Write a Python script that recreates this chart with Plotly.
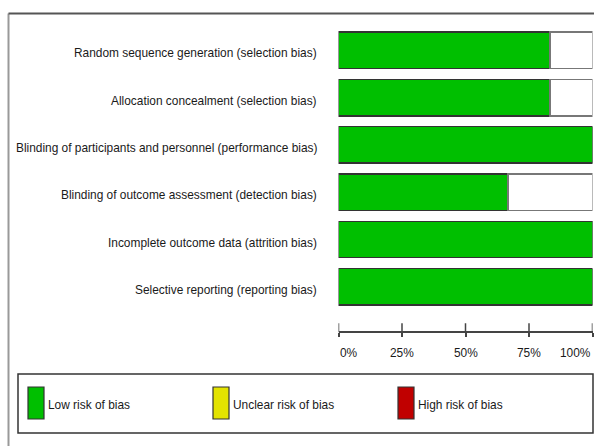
import plotly.graph_objects as go

# ---- data ----
domains = [
    "Random sequence generation (selection bias)",
    "Allocation concealment (selection bias)",
    "Blinding of participants and personnel (performance bias)",
    "Blinding of outcome assessment (detection bias)",
    "Incomplete outcome data (attrition bias)",
    "Selective reporting (reporting bias)",
]
low_risk = [83.3, 83.3, 100, 66.7, 100, 100]
not_low = [16.7, 16.7, 0, 33.3, 0, 0]
tick_vals = [0, 25, 50, 75, 100]
tick_text = ["0%", "25%", "50%", "75%", "100%"]
legend_labels = ["Low risk of bias", "Unclear risk of bias", "High risk of bias"]
legend_colors = ["#00BF00", "#E3E300", "#C00000"]

W, H = 594, 446
FONT = "Liberation Sans Narrow, Arial Narrow, Liberation Sans, Arial, sans-serif"
FS = 11.9
TXT = "#1a1a1a"


def px(x):
    return x / W


def py(y):
    return 1 - y / H


fig = go.Figure()
fig.add_trace(go.Bar(
    y=domains, x=low_risk, orientation="h", width=0.77,
    marker=dict(color=legend_colors[0], line=dict(color="#333333", width=1.5)),
    hoverinfo="skip",
))
fig.add_trace(go.Bar(
    y=domains, x=not_low, orientation="h", width=0.77,
    marker=dict(color="white", line=dict(color="#777777", width=1.5)),
    hoverinfo="skip",
))

shapes = []
annotations = []
# category labels (slightly below bar centre, as in the reference)
for d in domains:
    annotations.append(dict(xref="paper", yref="y", x=px(319), y=d, text=d, showarrow=False,
                            xanchor="right", yanchor="middle", yshift=-3,
                            font=dict(family=FONT, size=FS, color=TXT)))
# outer frame
shapes.append(dict(type="line", xref="paper", yref="paper", x0=px(8.5), x1=px(8.5), y0=py(13.5), y1=0,
                   line=dict(color="#999999", width=2)))
shapes.append(dict(type="line", xref="paper", yref="paper", x0=px(8.5), x1=1.02, y0=py(13.5), y1=py(13.5),
                   line=dict(color="#555555", width=2)))
# upward part of ticks + tick labels
axis_y = 332.3
for i, (v, t) in enumerate(zip(tick_vals, tick_text)):
    shapes.append(dict(type="line", xref="x", yref="paper", x0=v, x1=v, y0=py(axis_y), y1=py(axis_y - 9),
                       line=dict(color="#444444", width=1.5)))
    anchor = "left" if i == 0 else ("right" if i == len(tick_vals) - 1 else "center")
    annotations.append(dict(xref="x", yref="paper", x=v, y=py(353), text=t, showarrow=False,
                            xanchor=anchor, yanchor="middle", xshift=(-1 if anchor == "left" else 0),
                            font=dict(family=FONT, size=FS, color=TXT)))
# legend box
shapes.append(dict(type="rect", xref="paper", yref="paper", x0=px(18), x1=px(593), y0=py(374), y1=py(433),
                   line=dict(color="#333333", width=1.5), fillcolor="rgba(0,0,0,0)"))

sw_x = [28, 213, 398]
for lbl, col, x0 in zip(legend_labels, legend_colors, sw_x):
    shapes.append(dict(type="rect", xref="paper", yref="paper", x0=px(x0), x1=px(x0 + 16), y0=py(387), y1=py(419),
                       line=dict(color="#333333", width=1.2), fillcolor=col))
    annotations.append(dict(xref="paper", yref="paper", x=px(x0 + 18), y=py(405), text=lbl, showarrow=False,
                            xanchor="left", yanchor="middle", font=dict(family=FONT, size=FS, color=TXT)))

fig.update_layout(
    width=W, height=H,
    margin=dict(l=0, r=0, t=0, b=0, autoexpand=False),
    paper_bgcolor="white", plot_bgcolor="white",
    barmode="stack", showlegend=False,
    font=dict(family=FONT, size=FS, color=TXT),
    xaxis=dict(
        domain=[px(338.5), px(592.5)], range=[0, 100],
        anchor="free", position=py(axis_y), automargin=False,
        showgrid=False, zeroline=False,
        showline=True, linecolor="#444444", linewidth=1.5,
        ticks="outside", ticklen=4, tickwidth=1.5, tickcolor="#444444",
        tickvals=tick_vals, showticklabels=False,
    ),
    yaxis=dict(
        domain=[py(310.5), py(26.6)], autorange="reversed", automargin=False,
        showgrid=False, zeroline=False, showline=False, ticks="",
        showticklabels=False,
    ),
    shapes=shapes, annotations=annotations,
)

fig.write_html("out.html")
